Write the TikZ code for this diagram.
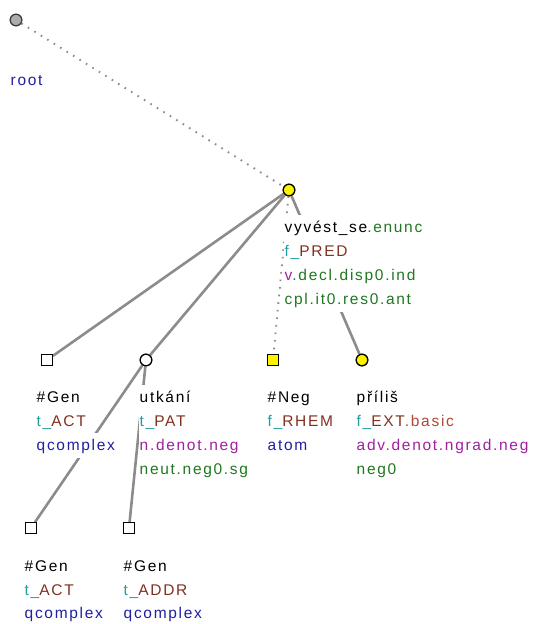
\documentclass[tikz,border=0pt]{standalone}
\usepackage{fontspec}
\setmainfont{Liberation Sans}[LetterSpace=11]
\definecolor{cteal}{RGB}{32,160,160}
\definecolor{cbrown}{RGB}{128,48,32}
\definecolor{clred}{RGB}{176,72,56}
\definecolor{cblue}{RGB}{32,32,160}
\definecolor{cpurp}{RGB}{160,32,160}
\definecolor{cgreen}{RGB}{32,120,32}
\definecolor{edgegray}{RGB}{140,140,140}
\begin{document}
\begin{tikzpicture}[x=1pt,y=-1pt,
  solidedge/.style={draw=edgegray,line width=2.6pt},
  dotedge/.style={draw=edgegray,line width=1.9pt,dash pattern=on 1.6pt off 6pt},
  sqnode/.style={draw=black,line width=1.2pt,fill=white,minimum size=10.5pt,inner sep=0pt},
  sqyel/.style={sqnode,fill=yellow},
  cnode/.style={circle,draw=black,line width=1.2pt,fill=white,minimum size=11.5pt,inner sep=0pt},
  cyel/.style={cnode,fill=yellow},
  cgray/.style={cnode,fill=gray!65,draw=black!75},
  lbl/.style={anchor=base west,fill=white,inner sep=0.5pt,text height=16.5pt,text depth=7pt,
    font=\fontsize{15.5}{18}\selectfont}]
\useasboundingbox (0,0) rectangle (533,624);
% nodes
\node[cgray] (root) at (16,20) {};
\node[cyel] (pred) at (289,190) {};
\node[sqnode] (gen1) at (47,360) {};
\node[cnode] (utk) at (146,360) {};
\node[sqyel] (neg) at (273,360) {};
\node[cyel] (pril) at (362,360) {};
\node[sqnode] (gen2) at (31,528) {};
\node[sqnode] (gen3) at (129,528) {};
% edges
\draw[dotedge] (root) -- (pred);
\draw[solidedge] (pred) -- (gen1);
\draw[solidedge] (pred) -- (utk);
\draw[dotedge] (pred) -- (neg);
\draw[solidedge] (pred) -- (pril);
\draw[solidedge] (utk) -- (gen2);
\draw[solidedge] (utk) -- (gen3);
% redraw node shapes on top of the edges
\node[cgray] at (root) {};
\node[cyel] at (pred) {};
\node[sqnode] at (gen1) {};
\node[cnode] at (utk) {};
\node[sqyel] at (neg) {};
\node[cyel] at (pril) {};
\node[sqnode] at (gen2) {};
\node[sqnode] at (gen3) {};
% labels
\node[lbl,text=cblue] (rootl) at (10,85) {root};
\node[lbl] (predl1) at (284,232) {vyvést\_se\textcolor{cgreen}{.enunc}};
\node[lbl] (predl2) at (284,256) {\textcolor{cteal}{f\_}\textcolor{cbrown}{PRED}};
\node[lbl] (predl3) at (284,280) {\textcolor{cpurp}{v}\textcolor{cgreen}{.decl.disp0.ind}};
\node[lbl,text=cgreen] (predl4) at (284,304) {cpl.it0.res0.ant};
\node[lbl] (gen1l1) at (36,402) {\#Gen};
\node[lbl] (gen1l2) at (36,426) {\textcolor{cteal}{t\_}\textcolor{cbrown}{ACT}};
\node[lbl,text=cblue] (gen1l3) at (36,450) {qcomplex};
\node[lbl] (utkl1) at (139,402) {utkání};
\node[lbl] (utkl2) at (139,426) {\textcolor{cteal}{t\_}\textcolor{cbrown}{PAT}};
\node[lbl,text=cpurp] (utkl3) at (139,450) {n.denot.neg};
\node[lbl,text=cgreen] (utkl4) at (139,474) {neut.neg0.sg};
\node[lbl] (negl1) at (267,402) {\#Neg};
\node[lbl] (negl2) at (267,426) {\textcolor{cteal}{f\_}\textcolor{cbrown}{RHEM}};
\node[lbl,text=cblue] (negl3) at (267,450) {atom};
\node[lbl] (prill1) at (356,402) {příliš};
\node[lbl] (prill2) at (356,426) {\textcolor{cteal}{f\_}\textcolor{cbrown}{EXT}\textcolor{clred}{.basic}};
\node[lbl,text=cpurp] (prill3) at (356,450) {adv.denot.ngrad.neg};
\node[lbl,text=cgreen] (prill4) at (356,474) {neg0};
\node[lbl] (gen2l1) at (24,571) {\#Gen};
\node[lbl] (gen2l2) at (24,595) {\textcolor{cteal}{t\_}\textcolor{cbrown}{ACT}};
\node[lbl,text=cblue] (gen2l3) at (24,618) {qcomplex};
\node[lbl] (gen3l1) at (123,571) {\#Gen};
\node[lbl] (gen3l2) at (123,595) {\textcolor{cteal}{t\_}\textcolor{cbrown}{ADDR}};
\node[lbl,text=cblue] (gen3l3) at (123,618) {qcomplex};
\end{tikzpicture}
\end{document}
